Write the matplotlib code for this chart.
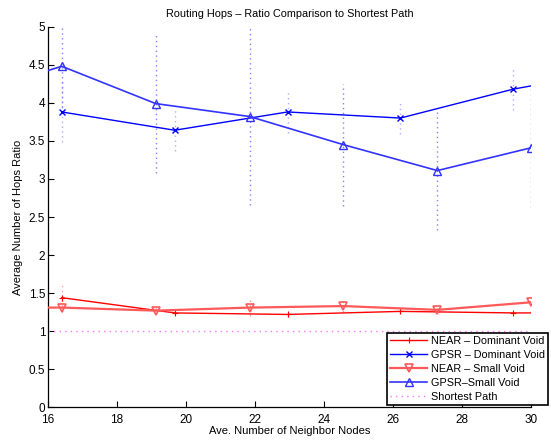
import matplotlib
matplotlib.use("Agg")
import matplotlib.pyplot as plt

plt.rcParams['font.family'] = ['Liberation Sans', 'DejaVu Sans']

# Dominant-void series
x_dom = [16.40, 19.67, 22.94, 26.21, 29.48, 32.75]
near_dom = [1.44, 1.24, 1.22, 1.26, 1.24, 1.24]
near_dom_err = [0.17, 0.03, 0.03, 0.03, 0.03, 0.03]
gpsr_dom = [3.88, 3.64, 3.88, 3.80, 4.18, 4.45]
gpsr_dom_err = [0.39, 0.27, 0.27, 0.21, 0.27, 0.27]

# Small-void series
x_small = [13.68, 16.40, 19.12, 21.84, 24.56, 27.28, 30.00]
near_small = [1.31, 1.31, 1.27, 1.31, 1.33, 1.28, 1.38]
near_small_err = [0.05, 0.06, 0.05, 0.11, 0.08, 0.06, 0.13]
gpsr_small = [4.10, 4.48, 3.99, 3.82, 3.45, 3.11, 3.41]
gpsr_small_err = [0.6, 0.6, 0.91, 1.16, 0.80, 0.78, 0.78]

shortest_x = [16, 30]
shortest_y = [1.0, 1.0]

title = "Routing Hops \u2013 Ratio Comparison to Shortest Path"
xlabel = "Ave. Number of Neighbor Nodes"
ylabel = "Average Number of Hops Ratio"
labels = ["NEAR \u2013 Dominant Void", "GPSR \u2013 Dominant Void",
          "NEAR \u2013 Small Void", "GPSR\u2013Small Void", "Shortest Path"]
xticks = [16, 18, 20, 22, 24, 26, 28, 30]
yticks = [0, 0.5, 1, 1.5, 2, 2.5, 3, 3.5, 4, 4.5, 5]
ytick_labels = ["0", "0.5", "1", "1.5", "2", "2.5", "3", "3.5", "4", "4.5", "5"]

fig = plt.figure(figsize=(5.51, 4.40), dpi=100)
ax = fig.add_axes([0.0871, 0.0743, 0.8771, 0.865])

def dotted_err(x, y, e, color):
    c = ax.errorbar(x, y, yerr=e, fmt='none', ecolor=color, elinewidth=1.0, capsize=0, zorder=1)
    for lc in c[2]:
        lc.set_linestyle((0, (1, 2.5)))

dotted_err(x_dom, near_dom, near_dom_err, (1.0, 0.65, 0.65))
dotted_err(x_dom, gpsr_dom, gpsr_dom_err, (0.68, 0.68, 1.0))
dotted_err(x_small, near_small, near_small_err, (1.0, 0.55, 0.55))
dotted_err(x_small, gpsr_small, gpsr_small_err, (0.5, 0.5, 1.0))

ax.plot(x_dom, near_dom, color='red', lw=1.0, marker='+', ms=4, mew=0.8, label=labels[0], zorder=3)
ax.plot(x_dom, gpsr_dom, color='blue', lw=1.0, marker='x', ms=4, mew=1.0, label=labels[1], zorder=3)
ax.plot(x_small, near_small, color=(1.0, 0.35, 0.35), lw=1.6, marker='v', ms=6, mfc='none',
        mew=1.2, label=labels[2], zorder=3)
ax.plot(x_small, gpsr_small, color=(0.2, 0.2, 1.0), lw=1.2, marker='^', ms=6, mfc='none',
        mew=1.0, label=labels[3], zorder=3)
ax.plot(shortest_x, shortest_y, color=(1.0, 0.45, 1.0), lw=1.0, linestyle=(0, (1, 3)),
        label=labels[4], zorder=2)

ax.set_xlim(16, 30)
ax.set_ylim(0, 5)
ax.set_xticks(xticks)
ax.set_yticks(yticks)
ax.set_yticklabels(ytick_labels)
ax.tick_params(direction='in', length=4, labelsize=8.5, width=0.8)
ax.tick_params(axis='x', pad=5)
ax.tick_params(axis='y', pad=2)
ax.spines['top'].set_visible(False)
ax.spines['right'].set_visible(False)
for s in ('left', 'bottom'):
    ax.spines[s].set_linewidth(0.9)

ax.set_title(title, fontsize=7.8, pad=7)
ax.set_xlabel(xlabel, fontsize=8, labelpad=0)
ax.set_ylabel(ylabel, fontsize=8, labelpad=4)

leg = ax.legend(loc='lower right', bbox_to_anchor=(548 / 551, 1 - 405 / 440),
                bbox_transform=fig.transFigure, fontsize=7.8, frameon=True, fancybox=False,
                edgecolor='black', framealpha=1, borderpad=0.25, labelspacing=0.38,
                handlelength=3.4, handletextpad=0.4, borderaxespad=0)
leg.get_frame().set_linewidth(1.2)

fig.savefig("out.png", dpi=100)
